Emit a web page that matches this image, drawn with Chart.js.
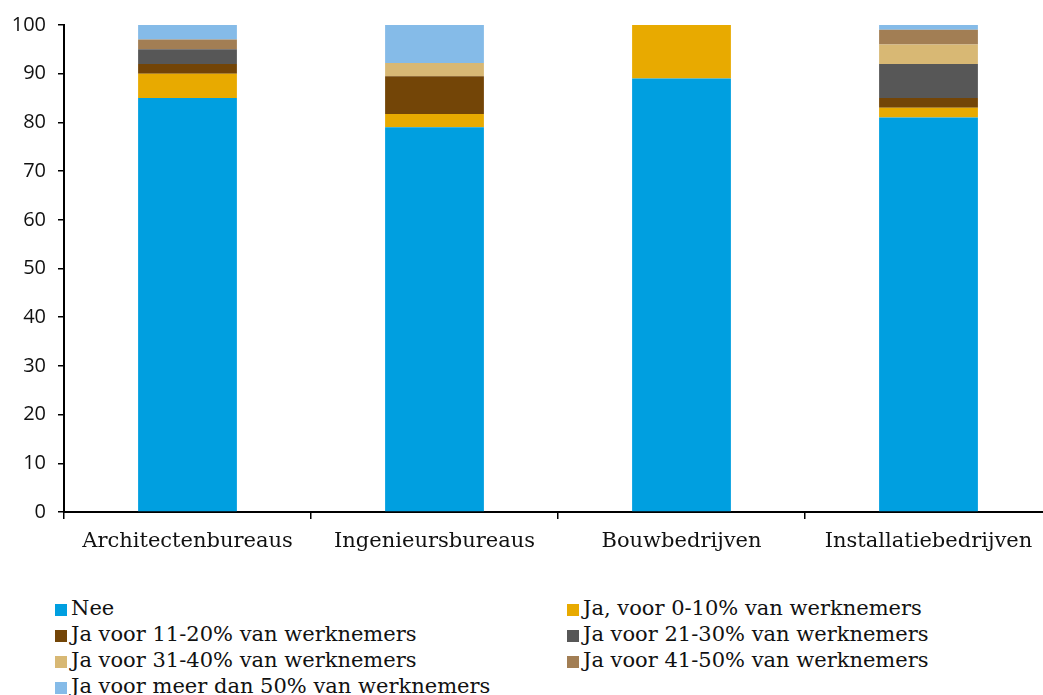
<!DOCTYPE html>
<html>
<head>
<meta charset="utf-8">
<script src="https://cdn.jsdelivr.net/npm/chart.js@4.4.0/dist/chart.umd.min.js"></script>
<style>
  html, body { margin: 0; padding: 0; background: #fff; overflow: hidden; }
  #wrap { position: relative; width: 1043px; height: 695px; overflow: hidden; }
  #box { position: absolute; left: 0; top: 0; width: 1052px; height: 575px; }
  #legend { position: absolute; left: 55px; top: 595px; width: 980px;
    font-family: "DejaVu Serif", serif; font-size: 21px; color: #111; }
  .item { position: absolute; white-space: nowrap; line-height: 26px; }
  .sw { display: inline-block; width: 12px; height: 12px; margin-right: 4px; vertical-align: -1px; }
</style>
</head>
<body>
<div id="wrap">
  <div id="box"><canvas id="chart"></canvas></div>
  <div id="legend"></div>
</div>
<script>
// categories + series (percent)
const categories = ['Architectenbureaus', 'Ingenieursbureaus', 'Bouwbedrijven', 'Installatiebedrijven'];
const seriesNames = [
  'Nee',
  'Ja, voor 0-10% van werknemers',
  'Ja voor 11-20% van werknemers',
  'Ja voor 21-30% van werknemers',
  'Ja voor 31-40% van werknemers',
  'Ja voor 41-50% van werknemers',
  'Ja voor meer dan 50% van werknemers'
];
const nee       = [85, 79, 89, 81];
const ja0_10    = [5, 2.7, 11, 2];
const ja11_20   = [2, 7.8, 0, 2];
const ja21_30   = [3, 0, 0, 7];
const ja31_40   = [0, 2.7, 0, 4];
const ja41_50   = [2, 0, 0, 3];
const jaMeer50  = [3, 7.9, 0, 1];
const yTicks = [0, 10, 20, 30, 40, 50, 60, 70, 80, 90, 100];

const colors = ['#009fe0', '#e8aa00', '#734507', '#575757', '#d8b874', '#a27e54', '#85bbe8'];
const values = [nee, ja0_10, ja11_20, ja21_30, ja31_40, ja41_50, jaMeer50];

const datasets = values.map((v, i) => ({
  label: seriesNames[i],
  data: v,
  backgroundColor: colors[i],
  borderWidth: 0,
  categoryPercentage: 1,
  barPercentage: 0.4
}));

const serif = '"DejaVu Serif", serif';

new Chart(document.getElementById('chart'), {
  type: 'bar',
  data: { labels: categories, datasets: datasets },
  options: {
    responsive: true,
    maintainAspectRatio: false,
    animation: false,
    layout: { padding: { top: 25, right: 0, left: 0, bottom: 0 } },
    plugins: { legend: { display: false }, tooltip: { enabled: false } },
    scales: {
      x: {
        stacked: true,
        offset: true,
        border: { display: true, color: '#000', width: 2 },
        grid: { display: true, offset: true, drawOnChartArea: false, drawTicks: true, tickLength: 7, color: '#000', lineWidth: 1.5 },
        ticks: { color: '#111', font: { family: serif, size: 21 }, padding: 10, maxRotation: 0, autoSkip: false },
        afterFit: (s) => { s.height = 63; }
      },
      y: {
        stacked: true,
        min: 0,
        max: 100,
        afterBuildTicks: (s) => { s.ticks = yTicks.map(v => ({ value: v })); },
        border: { display: true, color: '#000', width: 2 },
        grid: { display: true, drawOnChartArea: false, drawTicks: true, tickLength: 6, color: '#000', lineWidth: 1.5 },
        ticks: { color: '#111', font: { family: '"Open Sans", "DejaVu Sans", sans-serif', size: 20 }, padding: 12 },
        afterFit: (s) => { s.width = 64; }
      }
    }
  }
});

// two-column legend below the chart
const legend = document.getElementById('legend');
seriesNames.forEach((name, i) => {
  const el = document.createElement('div');
  el.className = 'item';
  el.style.left = (i % 2 === 0 ? 0 : 512) + 'px';
  el.style.top = (Math.floor(i / 2) * 26) + 'px';
  el.innerHTML = '<span class="sw" style="background:' + colors[i] + '"></span>' + name;
  legend.appendChild(el);
});
</script>
</body>
</html>
